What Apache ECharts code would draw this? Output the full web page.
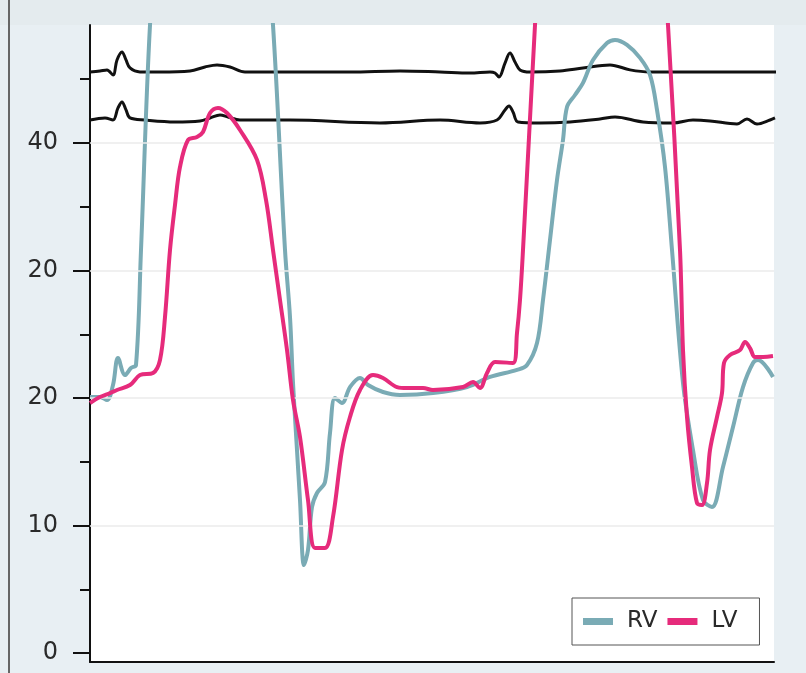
<!DOCTYPE html>
<html>
<head>
<meta charset="utf-8">
<script src="https://cdn.jsdelivr.net/npm/echarts@6/dist/echarts.min.js"></script>
<style>
html,body{margin:0;padding:0;background:#e8eff3;}
#chart{width:806px;height:673px;}
</style>
</head>
<body>
<div id="chart"></div>
<script>
// time in ms, pressure in mmHg
const rvTime = [0,20,34,46,56,70,82,92,102,120,134,240,352,366,390,400,406,414,420,428,436,444,454,470,480,490,504,520,540,556,586,620,686,754,800,854,874,894,906,920,934,946,954,970,986,1006,1034,1050,1074,1100,1120,1134,1150,1164,1186,1206,1226,1244,1266,1286,1306,1326,1336,1366];
const rvPressure = [20.08,20.08,19.84,21.02,23.14,21.80,22.35,22.59,31.61,49.25,55,62,55,49.25,31.61,26.35,21.18,15.92,12.00,6.90,8.08,11.45,12.55,13.41,17.25,20.00,19.61,20.86,21.57,21.02,20.47,20.24,20.39,20.86,21.65,22.20,22.59,24.31,27.69,32.39,37.10,40.24,42.82,43.76,44.71,46.51,47.84,48.08,47.69,46.67,45.33,42.59,38.12,31.61,21.18,15.92,12.00,11.45,14.59,17.73,20.86,22.75,22.98,21.65];

const lvTime = [0,20,40,54,80,100,126,140,150,160,170,180,196,214,226,240,256,274,300,334,352,366,380,394,406,420,436,450,470,486,504,520,540,566,586,614,634,666,686,746,766,780,794,810,846,854,860,866,890,900,1020,1144,1156,1180,1186,1194,1204,1214,1224,1234,1240,1254,1264,1268,1280,1300,1310,1320,1330,1346,1366];
const lvPressure = [19.61,20.08,20.39,20.63,21.02,21.80,21.96,22.98,26.35,31.61,35.14,38.12,40.24,40.47,40.86,42.35,42.75,42.35,41.02,38.67,35.53,31.61,27.69,23.76,19.84,16.94,12.00,8.24,8.24,10.67,15.92,18.51,20.63,21.80,21.57,20.86,20.78,20.78,20.63,20.86,21.25,20.78,21.96,22.82,22.75,25.10,27.69,31.61,49.25,56,65,56,49.25,31.61,23.76,18.51,14.59,11.76,11.61,13.33,15.92,18.51,20.39,22.75,23.37,23.76,24.39,23.92,23.22,23.22,23.29];

const ecgTopTime = [0,20,34,46,54,64,72,80,100,140,200,230,254,280,310,400,520,620,700,760,800,810,818,830,840,850,860,880,940,986,1040,1080,1120,1220,1372];
const ecgTopValue = [45.57,45.65,45.73,45.33,46.51,47.14,46.51,45.88,45.57,45.57,45.65,45.96,46.12,45.96,45.57,45.57,45.57,45.65,45.57,45.49,45.57,45.49,45.18,46.27,47.06,46.35,45.73,45.57,45.65,45.88,46.12,45.73,45.57,45.57,45.57];

const ecgBottomTime = [0,30,46,56,64,72,80,110,170,220,240,260,276,300,400,580,700,780,814,830,838,846,856,900,960,1020,1050,1106,1166,1206,1240,1294,1314,1334,1360,1370];
const ecgBottomValue = [41.80,41.96,41.80,42.75,43.22,42.59,41.96,41.80,41.65,41.73,41.96,42.20,42.04,41.80,41.80,41.57,41.80,41.57,41.80,42.59,42.90,42.43,41.65,41.57,41.65,41.88,42.04,41.65,41.57,41.80,41.73,41.49,41.88,41.49,41.80,41.96];

const yTickValues = [0,10,20,30,40];
const yTickLabels = ['0','10','20','20','40'];
const yMinorTickValues = [5,15,25,35,45];
const gridLineValues = [10,20,30,40];

function pairs(xs, ys){ return xs.map((x,i)=>[x, ys[i]]); }

const chart = echarts.init(document.getElementById('chart'), null, {renderer:'canvas'});
const FONT = '"DejaVu Sans", Arial, sans-serif';

chart.setOption({
  backgroundColor: '#e8eff3',
  animation: false,
  grid: {left: 90, right: 32, top: 25, bottom: 11, show: true, backgroundColor: '#ffffff', borderWidth: 0},
  legend: {
    data: ['RV','LV'],
    left: 572, top: 598,
    icon: 'rect', itemWidth: 30, itemHeight: 7, itemGap: 10,
    backgroundColor: '#ffffff', borderColor: '#555', borderWidth: 1,
    padding: [12, 22, 12, 11],
    textStyle: {fontFamily: FONT, fontSize: 23, color: '#2a2a2a', padding: [0,0,0,9]}
  },
  xAxis: {
    type: 'value', min: 0, max: 1368,
    axisLine: {show: true, onZero: false, lineStyle: {color: '#111', width: 2}},
    axisTick: {show: false}, axisLabel: {show: false}, splitLine: {show: false}
  },
  yAxis: [
    {
      type: 'value', min: -0.7, max: 49.25,
      axisLine: {show: true, lineStyle: {color: '#111', width: 2}},
      axisTick: {show: true, length: 17, customValues: yTickValues, lineStyle: {color: '#111', width: 2}},
      axisLabel: {show: true, customValues: yTickValues, margin: 32, fontFamily: FONT, fontSize: 24, color: '#2a2a2a',
        formatter: function(v){ const i = yTickValues.indexOf(Math.round(v)); return i >= 0 ? yTickLabels[i] : ''; }},
      splitLine: {show: false}
    },
    {
      type: 'value', min: -0.7, max: 49.25, position: 'left',
      axisLine: {show: false},
      axisTick: {show: true, length: 10, customValues: yMinorTickValues, lineStyle: {color: '#111', width: 2}},
      axisLabel: {show: false, customValues: yMinorTickValues},
      splitLine: {show: false}
    }
  ],
  series: [
    {
      type: 'line', name: 'grid', data: [], z: 1, silent: true,
      markLine: {silent: true, symbol: 'none', label: {show: false},
        lineStyle: {color: '#ebebeb', width: 1.5, type: 'solid'},
        data: gridLineValues.map(v => ({yAxis: v}))}
    },
    {
      type: 'line', name: 'ECG1', data: pairs(ecgTopTime, ecgTopValue), showSymbol: false, smooth: 0.35,
      lineStyle: {color: '#111', width: 3}, itemStyle: {color: '#111'}, z: 3
    },
    {
      type: 'line', name: 'ECG2', data: pairs(ecgBottomTime, ecgBottomValue), showSymbol: false, smooth: 0.35,
      lineStyle: {color: '#111', width: 3}, itemStyle: {color: '#111'}, z: 3
    },
    {
      type: 'line', name: 'RV', data: pairs(rvTime, rvPressure), showSymbol: false, smooth: 0.35,
      lineStyle: {color: '#7aabb5', width: 4}, itemStyle: {color: '#7aabb5'}, z: 4
    },
    {
      type: 'line', name: 'LV', data: pairs(lvTime, lvPressure), showSymbol: false, smooth: 0.35,
      lineStyle: {color: '#e62b7b', width: 4}, itemStyle: {color: '#e62b7b'}, z: 5
    }
  ],
  graphic: [
    {type: 'rect', shape: {x: 0, y: 0, width: 806, height: 25}, style: {fill: '#e4ebee'}, silent: true, z: -1},
    {type: 'line', shape: {x1: 9, y1: 0, x2: 9, y2: 673}, style: {stroke: '#666', lineWidth: 2}, silent: true}
  ]
});
</script>
</body>
</html>
